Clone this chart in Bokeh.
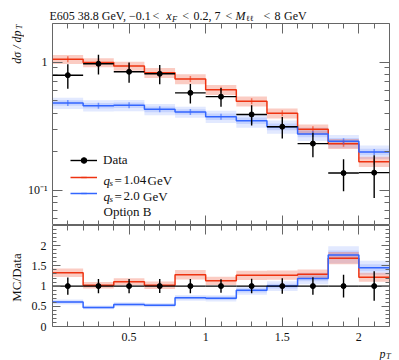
import math
from bokeh.plotting import figure
from bokeh.models import (ColumnDataSource, Range1d, FixedTicker, LinearAxis,
                          LogAxis, Label, Legend, LegendItem)
from bokeh.core.properties import value
from bokeh.layouts import column, row
from bokeh.embed import file_html
from bokeh.resources import INLINE

# ---------------- data ----------------
edges = [0.0, 0.2, 0.4, 0.6, 0.8, 1.0, 1.2, 1.4, 1.6, 1.8, 2.0, 2.2]
centers = [0.1, 0.3, 0.5, 0.7, 0.9, 1.1, 1.3, 1.5, 1.7, 1.9, 2.1]
data_y = [0.79, 0.97, 0.84, 0.81, 0.575, 0.537, 0.39, 0.313, 0.231, 0.136, 0.137]
data_err = [0.17, 0.17, 0.15, 0.14, 0.10, 0.09, 0.07, 0.06, 0.05, 0.038, 0.05]
mc_red = [1.05, 0.99, 0.93, 0.826, 0.737, 0.608, 0.494, 0.398, 0.299, 0.230, 0.167]
mc_blue = [0.479, 0.457, 0.460, 0.428, 0.408, 0.375, 0.349, 0.313, 0.275, 0.241, 0.199]
red_unc = [0.08, 0.08, 0.08, 0.09, 0.09, 0.09, 0.09, 0.09, 0.09, 0.09, 0.09]
blue_unc_in = [0.05, 0.05, 0.05, 0.05, 0.05, 0.06, 0.06, 0.06, 0.06, 0.06, 0.06]
blue_unc_out = [0.10, 0.10, 0.10, 0.10, 0.10, 0.11, 0.12, 0.12, 0.12, 0.12, 0.12]

x_major = [0.5, 1.0, 1.5, 2.0]
x_minor = [0.1, 0.2, 0.3, 0.4, 0.6, 0.7, 0.8, 0.9, 1.1, 1.2, 1.3, 1.4,
           1.6, 1.7, 1.8, 1.9, 2.1]
x_labels = {0.5: "0.5", 1.0: "1", 1.5: "1.5", 2.0: "2"}
y_major = [0.1, 1.0]
y_minor = [0.06, 0.07, 0.08, 0.09, 0.2, 0.3, 0.4, 0.5, 0.6, 0.7, 0.8, 0.9, 2.0]
y_labels = {0.1: "10⁻¹", 1.0: "1"}
r_major = [0.0, 0.5, 1.0, 1.5, 2.0]
r_minor = [0.1, 0.2, 0.3, 0.4, 0.6, 0.7, 0.8, 0.9, 1.1, 1.2, 1.3, 1.4,
           1.6, 1.7, 1.8, 1.9, 2.1, 2.2, 2.3, 2.4]
r_labels = {0.0: "0", 0.5: "0.5", 1.0: "1", 1.5: "1.5", 2.0: "2"}

RED = "#EE3311"
BLUE = "#3366FF"
FONT = "Liberation Serif"
FONT2 = "DejaVu Serif"
TICK = "#666666"
INK = "#111111"

left = edges[:-1]
right = edges[1:]
n = len(centers)


def style_axis(ax, major, minor, labels=None, tick_in=10, minor_in=5, standoff=6):
    ax.ticker = FixedTicker(ticks=major, minor_ticks=minor)
    ax.axis_line_color = None
    ax.major_tick_in = tick_in
    ax.major_tick_out = 0
    ax.minor_tick_in = minor_in
    ax.minor_tick_out = 0
    ax.major_tick_line_color = TICK
    ax.minor_tick_line_color = TICK
    ax.axis_label = None
    if labels is None:
        ax.major_label_text_font_size = "1px"
        ax.major_label_text_color = None
        ax.major_label_standoff = -1
    else:
        ax.major_label_overrides = labels
        ax.major_label_text_font = FONT
        ax.major_label_text_font_size = "12px"
        ax.major_label_text_color = INK
        ax.major_label_standoff = standoff


def add_text(fig, fbot, X, Y, text, size="12px", style="normal"):
    # label inside a plot frame; X, Y are page pixels
    fig.add_layout(Label(x=X - 49, y=fbot - Y, x_units="screen", y_units="screen",
                         text=text, text_font=FONT, text_font_size=size,
                         text_font_style=style, text_align="left",
                         text_baseline="alphabetic", text_color=INK))


def strip(w, h):
    f = figure(width=w, height=h, x_range=Range1d(0, w), y_range=Range1d(h, 0),
               x_axis_location=None, y_axis_location=None, title=None,
               output_backend="svg", toolbar_location=None, min_border=0)
    f.outline_line_color = None
    f.grid.visible = False
    f.background_fill_color = "white"
    f.border_fill_color = "white"
    return f


def stext(f, X, Y, text, size="12px", style="normal", align="left", angle=0.0,
          font=FONT):
    f.text(x=[X], y=[Y], text=[text], text_font=value(font),
           text_font_size=value(size), text_font_style=style, text_align=align,
           text_baseline="alphabetic", angle=angle, text_color=INK)


def base_fig(h, yr, ytype, bt, bb):
    f = figure(frame_width=337, frame_height=h, x_range=xr, y_range=yr,
               y_axis_type=ytype, output_backend="svg", toolbar_location=None,
               title=None, min_border_left=25, min_border_right=13,
               min_border_top=bt, min_border_bottom=bb)
    f.xgrid.grid_line_color = None
    f.ygrid.grid_line_color = None
    f.outline_line_color = TICK
    f.outline_line_width = 1
    f.background_fill_color = "white"
    f.border_fill_color = "white"
    return f


xr = Range1d(0, 2.2)

# ---------------- main panel ----------------
main = base_fig(202, Range1d(0.053, 2.0), "log", 0, 0)
style_axis(main.xaxis[0], x_major, x_minor, None)
style_axis(main.yaxis[0], y_major, y_minor, y_labels, standoff=5)
top_ax = LinearAxis()
style_axis(top_ax, x_major, x_minor, None)
main.add_layout(top_ax, "above")
right_ax = LogAxis()
style_axis(right_ax, y_major, y_minor, None)
main.add_layout(right_ax, "right")

band_red = ColumnDataSource(dict(
    l=left, r=right,
    b=[mc_red[i] * (1 - red_unc[i]) for i in range(n)],
    t=[mc_red[i] * (1 + red_unc[i]) for i in range(n)]))
band_blue_out = ColumnDataSource(dict(
    l=left, r=right,
    b=[mc_blue[i] * (1 - blue_unc_out[i]) for i in range(n)],
    t=[mc_blue[i] * (1 + blue_unc_out[i]) for i in range(n)]))
band_blue_in = ColumnDataSource(dict(
    l=left, r=right,
    b=[mc_blue[i] * (1 - blue_unc_in[i]) for i in range(n)],
    t=[mc_blue[i] * (1 + blue_unc_in[i]) for i in range(n)]))

main.quad(left="l", right="r", bottom="b", top="t", source=band_blue_out,
          fill_color=BLUE, fill_alpha=0.14, line_color=None)
main.quad(left="l", right="r", bottom="b", top="t", source=band_blue_in,
          fill_color=BLUE, fill_alpha=0.16, line_color=None)
main.quad(left="l", right="r", bottom="b", top="t", source=band_red,
          fill_color=RED, fill_alpha=0.25, line_color=None)

red_step = main.step(x=edges, y=mc_red + [mc_red[-1]], mode="after",
                     line_color=RED, line_width=1.5)
blue_step = main.step(x=edges, y=mc_blue + [mc_blue[-1]], mode="after",
                      line_color=BLUE, line_width=1.5)
red_dash = main.scatter(x=centers, y=mc_red, marker="dash", angle=math.pi / 2,
                        size=6, line_color=RED, line_width=1.5, line_alpha=0.6)
blue_dash = main.scatter(x=centers, y=mc_blue, marker="dash", angle=math.pi / 2,
                         size=6, line_color=BLUE, line_width=1.5, line_alpha=0.6)

dsrc = ColumnDataSource(dict(
    x=centers, y=data_y, l=left, r=right,
    lo=[data_y[i] - data_err[i] for i in range(n)],
    hi=[data_y[i] + data_err[i] for i in range(n)]))
xbar = main.segment(x0="l", x1="r", y0="y", y1="y", source=dsrc,
                    line_color="black", line_width=1.4)
ybar = main.segment(x0="x", x1="x", y0="lo", y1="hi", source=dsrc,
                    line_color="black", line_width=1.4)
ydash = main.scatter(x="x", y="y", source=dsrc, marker="dash", angle=math.pi / 2,
                     size=1, line_color="black", line_width=1.4)
dots = main.scatter(x="x", y="y", source=dsrc, marker="circle", size=5,
                    fill_color="black", line_color="black")

legend = Legend(items=[
    LegendItem(label="Data", renderers=[xbar, ydash, dots]),
    LegendItem(label=" ", renderers=[red_step, red_dash]),
    LegendItem(label=" ", renderers=[blue_step, blue_dash]),
], location=(18, 25), glyph_width=27, glyph_height=14, label_height=14,
    spacing=2, padding=0, margin=0, label_standoff=6,
    border_line_color=None, background_fill_alpha=0,
    label_text_font=FONT, label_text_font_size="13px",
    label_text_color=INK)
main.add_layout(legend)

# legend math texts (inside the frame)
add_text(main, 225, 100, 179.5, "q", "13px", "italic")
add_text(main, 225, 106, 182, "s", "9px", "italic")
add_text(main, 225, 111, 179.5, "=", "13px")
add_text(main, 225, 120, 179.5, "1.04", "13px")
add_text(main, 225, 144, 179.5, "GeV", "13px")
add_text(main, 225, 100, 195.5, "q", "13px", "italic")
add_text(main, 225, 106, 198, "s", "9px", "italic")
add_text(main, 225, 111, 195.5, "=", "13px")
add_text(main, 225, 120, 195.5, "2.0", "13px")
add_text(main, 225, 139.5, 195.5, "GeV", "13px")
add_text(main, 225, 100, 211, "Option B", "13px")

# ---------------- ratio panel ----------------
ratio = base_fig(101, Range1d(0, 2.5), "linear", 0, 20)
style_axis(ratio.xaxis[0], x_major, x_minor, x_labels, 9, 5)
style_axis(ratio.yaxis[0], r_major, r_minor, r_labels, 8, 4)
rtop = LinearAxis()
style_axis(rtop, x_major, x_minor, None, 9, 5)
ratio.add_layout(rtop, "above")
rright = LinearAxis()
style_axis(rright, r_major, r_minor, None, 8, 4)
ratio.add_layout(rright, "right")

rb_red = ColumnDataSource(dict(
    l=left, r=right,
    b=[mc_red[i] * (1 - red_unc[i]) / data_y[i] for i in range(n)],
    t=[mc_red[i] * (1 + red_unc[i]) / data_y[i] for i in range(n)]))
rb_blue_out = ColumnDataSource(dict(
    l=left, r=right,
    b=[mc_blue[i] * (1 - blue_unc_out[i]) / data_y[i] for i in range(n)],
    t=[mc_blue[i] * (1 + blue_unc_out[i]) / data_y[i] for i in range(n)]))
rb_blue_in = ColumnDataSource(dict(
    l=left, r=right,
    b=[mc_blue[i] * (1 - blue_unc_in[i]) / data_y[i] for i in range(n)],
    t=[mc_blue[i] * (1 + blue_unc_in[i]) / data_y[i] for i in range(n)]))
ratio.quad(left="l", right="r", bottom="b", top="t", source=rb_blue_out,
           fill_color=BLUE, fill_alpha=0.14, line_color=None)
ratio.quad(left="l", right="r", bottom="b", top="t", source=rb_blue_in,
           fill_color=BLUE, fill_alpha=0.16, line_color=None)
ratio.quad(left="l", right="r", bottom="b", top="t", source=rb_red,
           fill_color=RED, fill_alpha=0.25, line_color=None)

r_red = [mc_red[i] / data_y[i] for i in range(n)]
r_blue = [mc_blue[i] / data_y[i] for i in range(n)]
ratio.step(x=edges, y=r_red + [r_red[-1]], mode="after", line_color=RED, line_width=1.5)
ratio.step(x=edges, y=r_blue + [r_blue[-1]], mode="after", line_color=BLUE, line_width=1.5)

rsrc = ColumnDataSource(dict(
    x=centers, l=left, r=right,
    one=[data_y[i] / data_y[i] for i in range(n)],
    lo=[1 - data_err[i] / data_y[i] for i in range(n)],
    hi=[1 + data_err[i] / data_y[i] for i in range(n)]))
ratio.segment(x0="l", x1="r", y0="one", y1="one", source=rsrc,
              line_color="black", line_width=1.4)
ratio.segment(x0="x", x1="x", y0="lo", y1="hi", source=rsrc,
              line_color="black", line_width=1.4)
ratio.scatter(x="x", y="one", source=rsrc, marker="circle", size=5,
              fill_color="black", line_color="black")

# ---------------- text strips ----------------
title_strip = strip(399, 23)
TY = 15.5
stext(title_strip, 49, TY, "E605 38.8 GeV, −0.1")
stext(title_strip, 152, TY, "<")
stext(title_strip, 165.7, TY, "x", style="italic")
stext(title_strip, 171.5, TY + 2.5, "F", "8.5px", "italic")
stext(title_strip, 181.7, TY, "<")
stext(title_strip, 193, TY, "0.2, 7")
stext(title_strip, 225, TY, "<")
stext(title_strip, 235, TY, "M", style="italic")
stext(title_strip, 245.5, TY + 2.5, "ℓℓ", "8px", "normal", font=FONT2)
stext(title_strip, 263, TY, "<")
stext(title_strip, 274, TY, "8")
stext(title_strip, 283.5, TY, "GeV")

left_strip = strip(24, 323)
stext(left_strip, 18.5, 1, "T", "8.5px", "italic", "right", math.pi / 2)
stext(left_strip, 16, 7, "dσ / dp", "12px", "italic", "right", math.pi / 2)
stext(left_strip, 16, 254, "MC/Data", "13px", "normal", "center", math.pi / 2)

pt_strip = strip(399, 14)
stext(pt_strip, 379, 7, "p", "12px", "italic")
stext(pt_strip, 385.5, 9.5, "T", "8.5px", "italic")

layout = column(title_strip,
                row(left_strip, column(main, ratio, spacing=0), spacing=0),
                pt_strip, spacing=0)
open("out.html", "w").write(file_html(layout, INLINE))
